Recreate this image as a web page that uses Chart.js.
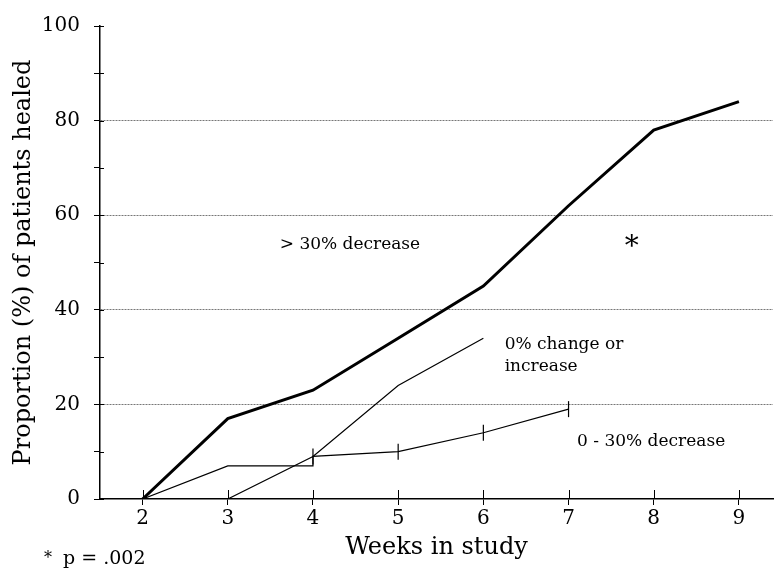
<!DOCTYPE html>
<html>
<head>
<meta charset="utf-8">
<script src="https://cdn.jsdelivr.net/npm/chart.js@4.4.1/dist/chart.umd.min.js"></script>
<style>
  html, body { margin: 0; padding: 0; background: #fff; overflow: hidden; }
  canvas { display: block; }
</style>
</head>
<body>
<canvas id="healing-chart" width="774" height="569"></canvas>
<script>
/* Data */
const weeks = [2, 3, 4, 5, 6, 7, 8, 9];
const bigDecrease = [0, 17, 23, 34, 45, 62, 78, 84];          // > 30% decrease

const smallDecreaseWeeks = [2, 3, 4, 4, 5, 6, 7];
const smallDecrease = [0, 7, 7, 9, 10, 14, 19];                 // 0 - 30% decrease
const smallDecreaseMarks = [false, false, false, true, true, true, true];

const noChangeWeeks = [3, 4, 5, 6];
const noChange = [0, 9, 24, 34];                                // 0% change or increase

const xTicks = [2, 3, 4, 5, 6, 7, 8, 9];
const yTicks = [0, 10, 20, 30, 40, 50, 60, 70, 80, 90, 100];
const yLabelled = [0, 20, 40, 60, 80, 100];
const yGrid = [20, 40, 60, 80];

/* Text labels placed in data units */
const annotations = [
    { text: '> 30% decrease', x: 3.61, y: 53.7, size: 17 },
    { text: '0% change or', x: 6.25, y: 32.7, size: 17 },
    { text: 'increase', x: 6.25, y: 27.9, size: 17 },
    { text: '0 - 30% decrease', x: 7.1, y: 12.2, size: 17 },
    { text: '*', x: 7.66, y: 53.2, size: 28 }
];

const serif = '"DejaVu Serif", serif';

function toPoints(xs, ys) {
    return xs.map((x, i) => ({ x: x, y: ys[i] }));
}

/* Inward halves of the axis ticks, labels and footnote */
const extrasPlugin = {
    id: 'extras',
    afterDraw(chart) {
        const ctx = chart.ctx;
        const xs = chart.scales.x;
        const ys = chart.scales.y;
        const area = chart.chartArea;
        ctx.save();
        ctx.strokeStyle = '#000';
        ctx.lineWidth = 1;
        xTicks.forEach(v => {
            const px = Math.round(xs.getPixelForValue(v)) + 0.5;
            ctx.beginPath();
            ctx.moveTo(px, area.bottom - 9);
            ctx.lineTo(px, area.bottom);
            ctx.stroke();
        });
        yTicks.forEach(v => {
            const py = Math.round(ys.getPixelForValue(v)) + 0.5;
            ctx.beginPath();
            ctx.moveTo(area.left, py);
            ctx.lineTo(area.left + 4, py);
            ctx.stroke();
        });

        ctx.fillStyle = '#000';
        ctx.textBaseline = 'middle';
        ctx.textAlign = 'left';
        annotations.forEach(a => {
            ctx.font = a.size + 'px ' + serif;
            ctx.fillText(a.text, xs.getPixelForValue(a.x), ys.getPixelForValue(a.y));
        });

        // footnote
        ctx.textBaseline = 'alphabetic';
        ctx.font = '16px ' + serif;
        ctx.fillText('*', 44, 563);
        ctx.font = '19px ' + serif;
        ctx.fillText('p = .002', 63, 564);
        ctx.restore();
    }
};

function initHealingChart() {
    const ctx = document.getElementById('healing-chart');
    return new Chart(ctx, {
        type: 'line',
        data: {
            datasets: [{
                label: '> 30% decrease',
                data: toPoints(weeks, bigDecrease),
                borderColor: '#000',
                borderWidth: 3,
                pointRadius: 0
            }, {
                label: '0 - 30% decrease',
                data: toPoints(smallDecreaseWeeks, smallDecrease),
                borderColor: '#000',
                borderWidth: 1.2,
                pointStyle: 'line',
                rotation: 90,
                pointRadius: smallDecreaseMarks.map(m => m ? 8 : 0),
                pointBorderWidth: 1.2,
                pointBorderColor: '#000'
            }, {
                label: '0% change or increase',
                data: toPoints(noChangeWeeks, noChange),
                borderColor: '#000',
                borderWidth: 1.2,
                pointRadius: 0
            }]
        },
        options: {
            responsive: false,
            animation: false,
            layout: {
                autoPadding: false,
                padding: { top: 20, right: 1, bottom: 0, left: 0 }
            },
            plugins: {
                legend: { display: false },
                tooltip: { enabled: false }
            },
            scales: {
                x: {
                    type: 'linear',
                    min: 1.5,
                    max: 9.4,
                    afterBuildTicks: s => { s.ticks = xTicks.map(v => ({ value: v })); },
                    afterFit: s => { s.height = 70; },
                    grid: {
                        drawOnChartArea: false,
                        tickLength: 6,
                        tickColor: '#000'
                    },
                    border: { color: '#000', width: 1.5 },
                    ticks: {
                        color: '#000',
                        font: { family: serif, size: 20 },
                        padding: 2,
                        maxRotation: 0
                    },
                    title: {
                        display: true,
                        text: 'Weeks in study',
                        color: '#000',
                        font: { family: serif, size: 24 },
                        padding: { top: 0, bottom: 7 }
                    }
                },
                y: {
                    min: 0,
                    max: 100,
                    afterBuildTicks: s => { s.ticks = yTicks.map(v => ({ value: v })); },
                    afterFit: s => { s.width = 100; },
                    grid: {
                        color: c => yGrid.includes(c.tick.value) ? '#777' : 'rgba(0,0,0,0)',
                        lineWidth: 1,
                        tickLength: 6,
                        tickColor: '#000'
                    },
                    border: { color: '#000', width: 1.5, dash: [2, 1] },
                    ticks: {
                        color: '#000',
                        font: { family: serif, size: 20 },
                        padding: 14,
                        callback: v => yLabelled.includes(v) ? String(v) : ''
                    },
                    title: {
                        display: true,
                        text: 'Proportion (%) of patients healed',
                        color: '#000',
                        font: { family: serif, size: 24 },
                        padding: { top: 9, bottom: 0 }
                    }
                }
            }
        },
        plugins: [extrasPlugin]
    });
}

const healingChart = initHealingChart();
</script>
</body>
</html>
